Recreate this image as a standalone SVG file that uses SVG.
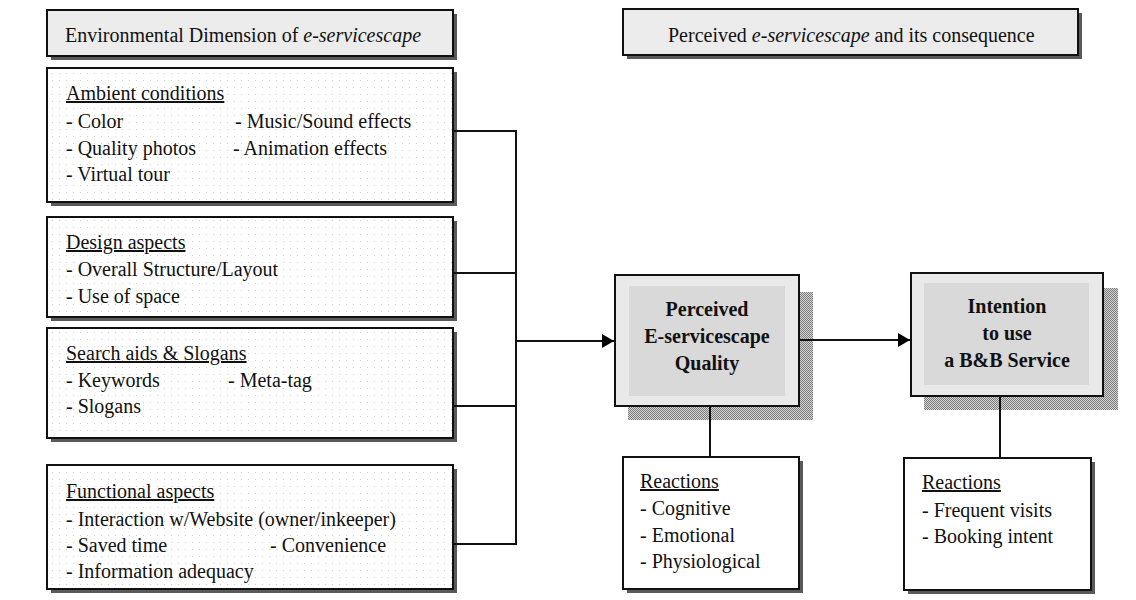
<svg xmlns="http://www.w3.org/2000/svg" width="1136" height="600" viewBox="0 0 1136 600">
  <defs>
    <pattern id="dots" x="0" y="0" width="7" height="7" patternUnits="userSpaceOnUse">
      <rect width="7" height="7" fill="#ffffff"/>
      <circle cx="3.5" cy="3.5" r="0.6" fill="#c8c8c8"/>
    </pattern>
    <pattern id="dither" x="0" y="0" width="2" height="2" patternUnits="userSpaceOnUse">
      <rect width="2" height="2" fill="#d6d6d6"/>
      <rect width="1" height="1" fill="#7a7a7a"/>
      <rect x="1" y="1" width="1" height="1" fill="#7a7a7a"/>
    </pattern>
    <marker id="arrow" viewBox="0 0 12 14" refX="12" refY="7" markerWidth="12" markerHeight="14" markerUnits="userSpaceOnUse" orient="auto">
      <path d="M0,0 L12,7 L0,14 Z" fill="#000"/>
    </marker>
  </defs>
  <style>
    text { font-family: "Liberation Serif", "Times New Roman", serif; font-size: 20px; fill: #111; }
    .ul { text-decoration: underline; }
    .it { font-style: italic; }
    .bold { font-weight: bold; text-anchor: middle; }
    .shadow { fill: #5a5a5a; }
    .head { fill: #ececec; stroke: #111; stroke-width: 2; }
    .dim { fill: url(#dots); stroke: #111; stroke-width: 2; }
    .plain { fill: #ffffff; stroke: #111; stroke-width: 2; }
    .outer { fill: #e9e9e9; stroke: #111; stroke-width: 2; }
    .inner { fill: #d9d9d9; }
    .hatch { fill: url(#dither); }
    .wire { fill: none; stroke: #111; stroke-width: 2; }
  </style>

  <rect width="1136" height="600" fill="#ffffff"/>

  <!-- column headings -->
  <g id="heading-environment">
    <rect class="shadow" x="51" y="14" width="406" height="46"/>
    <rect class="head" x="47" y="10" width="406" height="46"/>
    <text x="65" y="42">Environmental Dimension of <tspan class="it">e-servicescape</tspan></text>
  </g>
  <g id="heading-perceived">
    <rect class="shadow" x="627" y="13" width="455" height="46"/>
    <rect class="head" x="623" y="9" width="455" height="46"/>
    <text x="668" y="42">Perceived <tspan class="it">e-servicescape</tspan> and its consequence</text>
  </g>

  <!-- environmental dimensions -->
  <g id="ambient-conditions">
    <rect class="shadow" x="51" y="72" width="406" height="134"/>
    <rect class="dim" x="47" y="68" width="406" height="134"/>
    <text class="ul" x="66" y="100">Ambient conditions</text>
    <text x="66" y="128">- Color</text>
    <text x="235" y="128">- Music/Sound effects</text>
    <text x="66" y="155">- Quality photos</text>
    <text x="233" y="155">- Animation effects</text>
    <text x="66" y="181">- Virtual tour</text>
  </g>
  <g id="design-aspects">
    <rect class="shadow" x="51" y="221" width="406" height="100"/>
    <rect class="dim" x="47" y="217" width="406" height="100"/>
    <text class="ul" x="66" y="249">Design aspects</text>
    <text x="66" y="276">- Overall Structure/Layout</text>
    <text x="66" y="303">- Use of space</text>
  </g>
  <g id="search-aids">
    <rect class="shadow" x="51" y="332" width="406" height="110"/>
    <rect class="dim" x="47" y="328" width="406" height="110"/>
    <text class="ul" x="66" y="360">Search aids &amp; Slogans</text>
    <text x="66" y="387">- Keywords</text>
    <text x="228" y="387">- Meta-tag</text>
    <text x="66" y="413">- Slogans</text>
  </g>
  <g id="functional-aspects">
    <rect class="shadow" x="51" y="469" width="406" height="124"/>
    <rect class="dim" x="47" y="465" width="406" height="124"/>
    <text class="ul" x="66" y="498">Functional aspects</text>
    <text x="66" y="526">- Interaction w/Website (owner/inkeeper)</text>
    <text x="66" y="552">- Saved time</text>
    <text x="270" y="552">- Convenience</text>
    <text x="66" y="578">- Information adequacy</text>
  </g>

  <!-- perceived quality and intention -->
  <g id="perceived-quality">
    <rect class="hatch" x="628" y="292" width="185" height="128"/>
    <rect class="outer" x="615" y="275" width="184" height="131"/>
    <rect class="inner" x="629" y="286" width="156" height="110"/>
    <text class="bold" x="707" y="316">Perceived</text>
    <text class="bold" x="707" y="343">E-servicescape</text>
    <text class="bold" x="707" y="370">Quality</text>
  </g>
  <g id="intention">
    <rect class="hatch" x="924" y="288" width="194" height="122"/>
    <rect class="outer" x="911" y="273" width="192" height="123"/>
    <rect class="inner" x="924" y="283" width="165" height="102"/>
    <text class="bold" x="1007" y="313">Intention</text>
    <text class="bold" x="1007" y="340">to use</text>
    <text class="bold" x="1007" y="367">a B&amp;B Service</text>
  </g>

  <!-- reactions -->
  <g id="reactions-perceived">
    <rect class="shadow" x="627" y="461" width="176" height="132"/>
    <rect class="plain" x="623" y="457" width="176" height="132"/>
    <text class="ul" x="640" y="488">Reactions</text>
    <text x="640" y="515">- Cognitive</text>
    <text x="640" y="542">- Emotional</text>
    <text x="640" y="568">- Physiological</text>
  </g>
  <g id="reactions-intention">
    <rect class="shadow" x="908" y="462" width="187" height="132"/>
    <rect class="plain" x="904" y="458" width="187" height="132"/>
    <text class="ul" x="922" y="489">Reactions</text>
    <text x="922" y="517">- Frequent visits</text>
    <text x="922" y="543">- Booking intent</text>
  </g>

  <!-- connectors -->
  <g id="connectors">
    <path class="wire" d="M454,131 H516 V544 H454"/>
    <path class="wire" d="M454,273 H516"/>
    <path class="wire" d="M454,406 H516"/>
    <path class="wire" d="M516,341 H614" marker-end="url(#arrow)"/>
    <path class="wire" d="M800,340 H910" marker-end="url(#arrow)"/>
    <path class="wire" d="M710,407 V456"/>
    <path class="wire" d="M1000,397 V457"/>
  </g>
</svg>
